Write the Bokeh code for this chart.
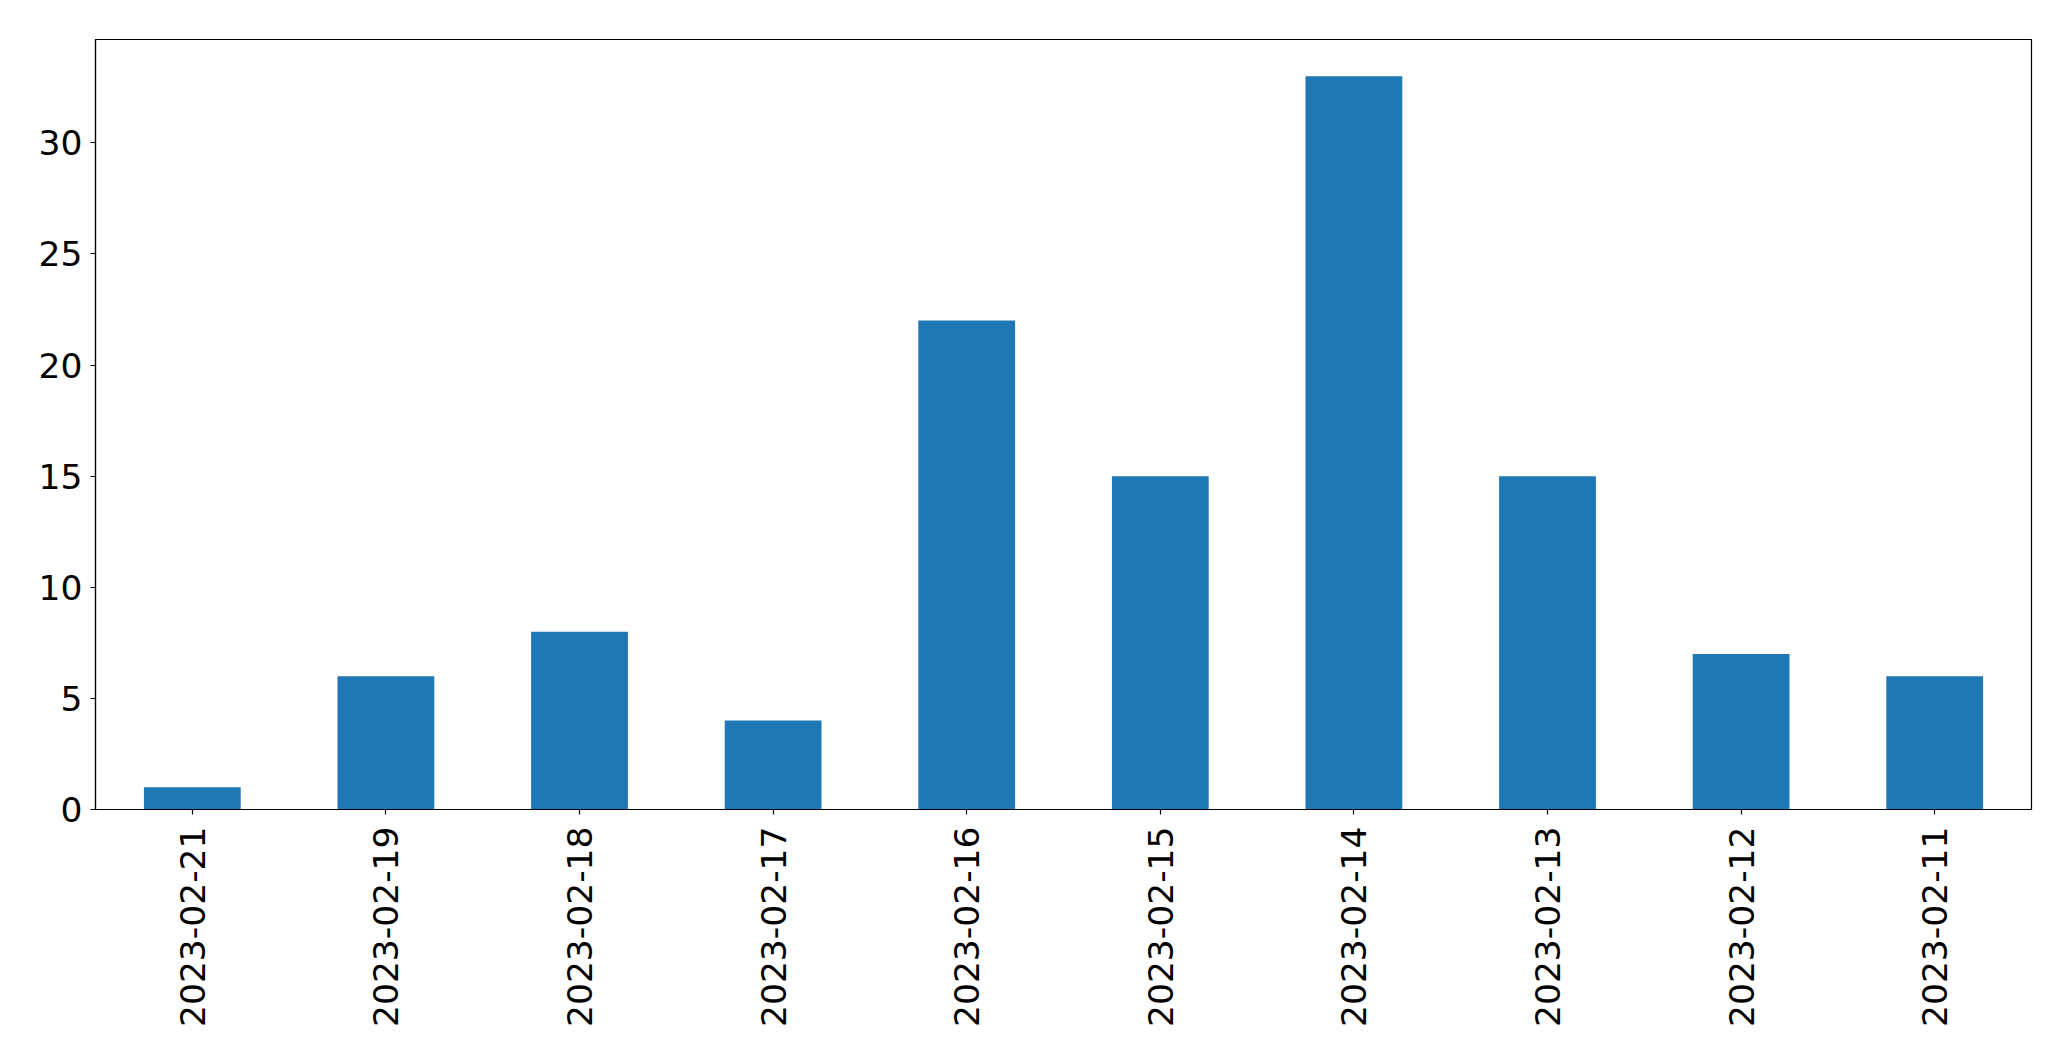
import math
from bokeh.plotting import figure
from bokeh.models import FactorRange, Range1d, FixedTicker, ColumnDataSource
from bokeh.embed import file_html
from bokeh.resources import INLINE

dates = ["2023-02-21", "2023-02-19", "2023-02-18", "2023-02-17", "2023-02-16",
         "2023-02-15", "2023-02-14", "2023-02-13", "2023-02-12", "2023-02-11"]
counts = [1, 6, 8, 4, 22, 15, 33, 15, 7, 6]
y_ticks = [0, 5, 10, 15, 20, 25, 30]

src = ColumnDataSource(dict(date=dates, count=counts))

p = figure(width=2055, height=1045, output_backend="svg", toolbar_location=None,
           x_range=FactorRange(*dates, range_padding=0),
           y_range=Range1d(0, max(counts) * 1.05),
           min_border_left=95, min_border_right=24, min_border_top=39, min_border_bottom=236)

p.vbar(x="date", top="count", width=0.5, source=src, color="#1f77b4", line_color=None)

p.xgrid.visible = False
p.ygrid.visible = False
p.outline_line_color = "black"
p.outline_line_width = 1.2
p.background_fill_color = "white"
p.border_fill_color = "white"

p.yaxis.ticker = FixedTicker(ticks=y_ticks)
for ax in (p.xaxis[0], p.yaxis[0]):
    ax.major_label_text_font = "DejaVu Sans"
    ax.major_label_text_font_size = "34.5px"
    ax.major_label_text_color = "black"
    ax.axis_line_color = "black"
    ax.axis_line_width = 1.2
    ax.major_tick_line_color = "black"
    ax.major_tick_line_width = 1.2
    ax.major_tick_out = 5
    ax.major_tick_in = 0
    ax.minor_tick_line_color = None

p.yaxis.major_label_standoff = 8
p.xaxis.major_label_standoff = 12
p.xaxis.major_label_orientation = math.pi / 2

open("out.html", "w").write(file_html(p, INLINE))
